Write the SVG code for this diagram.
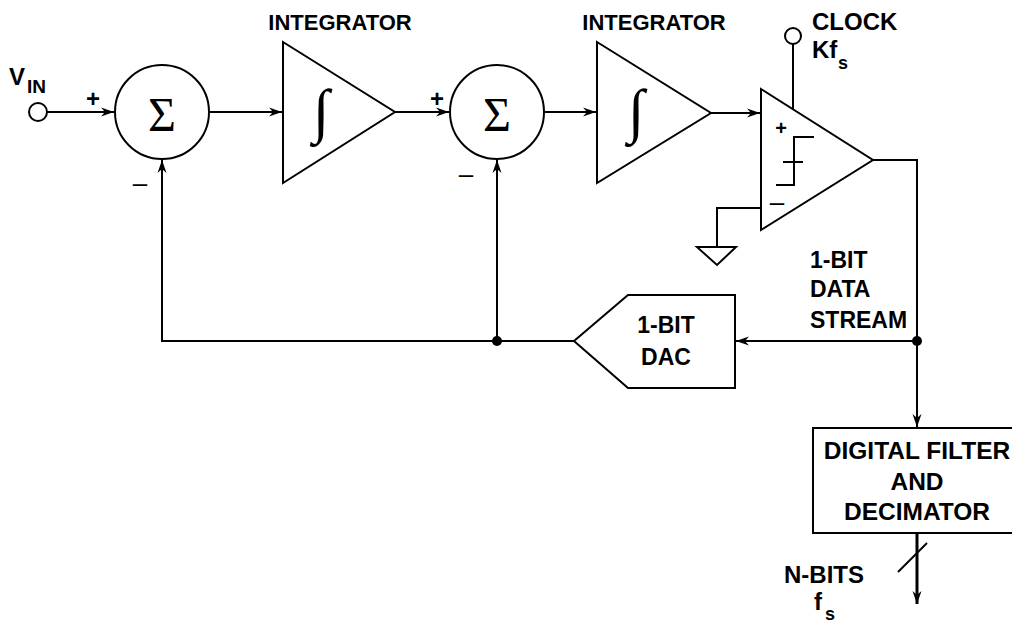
<svg xmlns="http://www.w3.org/2000/svg" width="1012" height="623" viewBox="0 0 1012 623">
<style>
.ln{fill:none;stroke:#000;stroke-width:2}
.sh{fill:#fff;stroke:#000;stroke-width:2}
.t{font-family:"Liberation Sans",Arial,sans-serif;font-weight:bold;fill:#000}
.m{font-family:"Liberation Sans",Arial,sans-serif;fill:#000}
.sym{font-family:"Liberation Serif","DejaVu Serif",serif;fill:#000}
.dot{fill:#000}
</style>
<defs>
<marker id="ar" markerUnits="userSpaceOnUse" markerWidth="14" markerHeight="10" refX="13" refY="5" orient="auto">
<path d="M0,0.5 L13,5 L0,9.5 L4,5 Z" fill="#000"/>
</marker>
</defs>
<rect width="1012" height="623" fill="#fff"/>

<g id="connectors">
<path class="ln" d="M47,112 H114" marker-end="url(#ar)"/>
<path class="ln" d="M209,112 H282" marker-end="url(#ar)"/>
<path class="ln" d="M395,112 H449" marker-end="url(#ar)"/>
<path class="ln" d="M544,112 H596" marker-end="url(#ar)"/>
<path class="ln" d="M711,113 H760" marker-end="url(#ar)"/>
<path class="ln" d="M793,44 V109"/>
<path class="ln" d="M873,160 H917 V427" marker-end="url(#ar)"/>
<path class="ln" d="M917,341 H736" marker-end="url(#ar)"/>
<path class="ln" d="M574,341 H162 V160" marker-end="url(#ar)"/>
<path class="ln" d="M497,341 V160" marker-end="url(#ar)"/>
<path class="ln" d="M761,208 H717 V247"/>
<path class="ln" d="M917,533 V604" style="stroke-width:3" marker-end="url(#ar)"/>
<path class="ln" d="M898,572 L927,543"/>
<circle class="dot" cx="917" cy="341" r="5"/>
<circle class="dot" cx="497" cy="341" r="5"/>
</g>

<g id="vin">
<circle class="sh" cx="38" cy="112" r="9"/>
<text class="t" x="9" y="85" font-size="24">V</text>
<text class="t" x="27" y="93" font-size="19">IN</text>
</g>

<g id="sum1">
<circle class="sh" cx="162" cy="112" r="47"/>
<text class="sym" x="162" y="131" font-size="48" text-anchor="middle">Σ</text>
<text class="t" x="93" y="107" font-size="24" text-anchor="middle">+</text>
<text class="m" x="140" y="192" font-size="26" text-anchor="middle">–</text>
</g>

<g id="integrator1">
<path class="sh" d="M283,42 L395,112 L283,183 Z"/>
<text class="sym" x="321" y="131" font-size="60" text-anchor="middle">∫</text>
<text class="t" x="340" y="30" font-size="22" text-anchor="middle">INTEGRATOR</text>
</g>

<g id="sum2">
<circle class="sh" cx="497" cy="112" r="47"/>
<text class="sym" x="497" y="131" font-size="48" text-anchor="middle">Σ</text>
<text class="t" x="437" y="107" font-size="24" text-anchor="middle">+</text>
<text class="m" x="466" y="183" font-size="26" text-anchor="middle">–</text>
</g>

<g id="integrator2">
<path class="sh" d="M597,42 L711,113 L597,183 Z"/>
<text class="sym" x="636" y="131" font-size="60" text-anchor="middle">∫</text>
<text class="t" x="654" y="30" font-size="22" text-anchor="middle">INTEGRATOR</text>
</g>

<g id="comparator">
<path class="sh" d="M761,89 L873,160 L761,230 Z"/>
<path class="ln" d="M814,137 H794 V185 H776 M783,162 H803"/>
<text class="t" x="781" y="135" font-size="20" text-anchor="middle">+</text>
<text class="m" x="777" y="211" font-size="26" text-anchor="middle">–</text>
</g>

<g id="clock">
<circle class="sh" cx="793" cy="36" r="8"/>
<text class="t" x="812" y="30" font-size="24">CLOCK</text>
<text class="t" x="812" y="58" font-size="24">Kf</text>
<text class="t" x="838" y="69" font-size="18">s</text>
</g>

<g id="ground">
<path class="sh" d="M697,247 H736 L717,265 Z"/>
</g>

<g id="stream-label">
<text class="t" x="810" y="268" font-size="23">1-BIT</text>
<text class="t" x="810" y="297" font-size="23">DATA</text>
<text class="t" x="810" y="328" font-size="23">STREAM</text>
</g>

<g id="dac">
<path class="sh" d="M574,341 L628,295 H735 V388 H628 Z"/>
<text class="t" x="666" y="333" font-size="23" text-anchor="middle">1-BIT</text>
<text class="t" x="666" y="365" font-size="23" text-anchor="middle">DAC</text>
</g>

<g id="filter">
<rect class="sh" x="813" y="428" width="208" height="105"/>
<text class="t" x="917" y="459" font-size="24.5" text-anchor="middle">DIGITAL FILTER</text>
<text class="t" x="917" y="490" font-size="24.5" text-anchor="middle">AND</text>
<text class="t" x="917" y="520" font-size="24.5" text-anchor="middle">DECIMATOR</text>
</g>

<g id="output-label">
<text class="t" x="784" y="583" font-size="24">N-BITS</text>
<text class="t" x="814" y="610" font-size="24">f</text>
<text class="t" x="825" y="620" font-size="18">s</text>
</g>
</svg>
